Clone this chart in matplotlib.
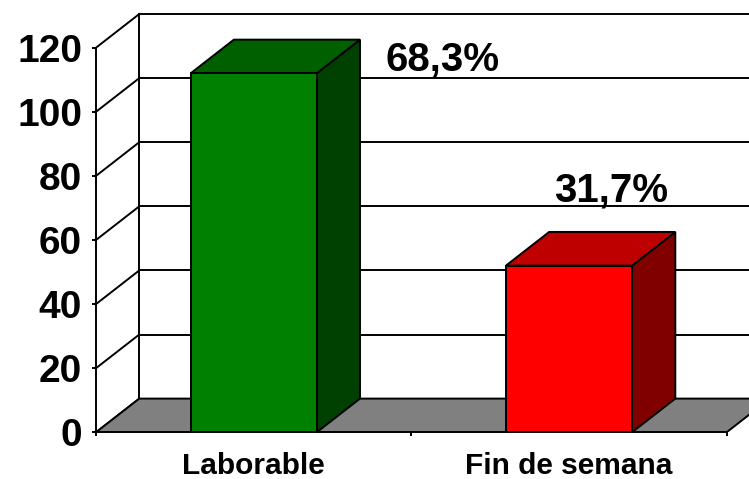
import matplotlib
matplotlib.use("Agg")
import matplotlib.pyplot as plt
from matplotlib.patches import Polygon

# data
categories = ["Laborable", "Fin de semana"]
values = [112, 52]
percent_labels = ["68,3%", "31,7%"]
y_ticks = [0, 20, 40, 60, 80, 100, 120]

front_colors = ["#008000", "#ff0000"]
top_colors = ["#006000", "#bf0000"]
side_colors = ["#004000", "#800000"]
# offsets (points) of the percent labels from the top-centre of each bar
label_offsets = [(136, 2.4), (30, 46.3)]

plt.rcParams['font.family'] = ['Liberation Sans', 'DejaVu Sans']

W, H = 749, 479
fig = plt.figure(figsize=(W / 100, H / 100), dpi=100)
left_px, bottom_px = 96, 46.7
ax = fig.add_axes([left_px / W, bottom_px / H, (W - left_px) / W, (H - bottom_px) / H])
ax.patch.set_alpha(0)

# pixels per category / per unit of value
px_x, px_y = 315.3, 3.205
xmax = (W - left_px) / px_x
ax.set_xlim(0, xmax)
ax.set_ylim(0, (H - bottom_px) / px_y)

# 3D depth offset in data units
dx = 43.3 / px_x
dy = 33.7 / px_y
ytop = max(y_ticks)
ncat = len(categories)
lw = 1.4

# walls and gridlines
for v in y_ticks:
    ax.plot([0, dx], [v, v + dy], color='k', lw=lw, clip_on=False, zorder=1)
    ax.plot([dx, xmax], [v + dy, v + dy], color='k', lw=lw, clip_on=False, zorder=1)
ax.plot([dx, dx], [dy, ytop + dy], color='k', lw=lw, zorder=1)

# floor
floor = Polygon([(0, 0), (ncat, 0), (ncat + dx, dy), (dx, dy)],
                closed=True, fc='#808080', ec='k', lw=lw, zorder=2)
ax.add_patch(floor)

# bars
hw = 0.2
for i, v in enumerate(values):
    c = i + 0.5
    side = Polygon([(c + hw, 0), (c + hw + dx, dy), (c + hw + dx, v + dy), (c + hw, v)],
                   closed=True, fc=side_colors[i], ec='k', lw=lw, zorder=3)
    top = Polygon([(c - hw, v), (c + hw, v), (c + hw + dx, v + dy), (c - hw + dx, v + dy)],
                  closed=True, fc=top_colors[i], ec='k', lw=lw, zorder=3)
    ax.add_patch(side)
    ax.add_patch(top)
    ax.bar(c, v, width=2 * hw, color=front_colors[i], edgecolor='k', linewidth=lw, zorder=4)
    ax.annotate(percent_labels[i], xy=(c, v), xytext=label_offsets[i],
                textcoords='offset points', ha='center', va='baseline',
                fontsize=29, fontweight='bold', zorder=5)

# axes
for s in ['top', 'right']:
    ax.spines[s].set_visible(False)
ax.spines['left'].set_bounds(0, ytop)
ax.spines['bottom'].set_bounds(0, ncat)
ax.spines['left'].set_linewidth(lw)
ax.spines['bottom'].set_linewidth(lw)
ax.spines['left'].set_zorder(6)
ax.spines['bottom'].set_zorder(6)

ax.set_yticks(y_ticks)
ax.set_yticklabels([str(t) for t in y_ticks], fontsize=28, fontweight='bold')
ax.tick_params(axis='y', length=3, width=lw, pad=7)

ax.set_xticks(range(ncat + 1))
ax.set_xticklabels([])
ax.tick_params(axis='x', which='major', length=3, width=lw)
ax.set_xticks([i + 0.5 for i in range(ncat)], minor=True)
ax.set_xticklabels(categories, minor=True, fontsize=21.5, fontweight='bold')
ax.tick_params(axis='x', which='minor', length=0, pad=14)

fig.savefig("out.png", dpi=100)
